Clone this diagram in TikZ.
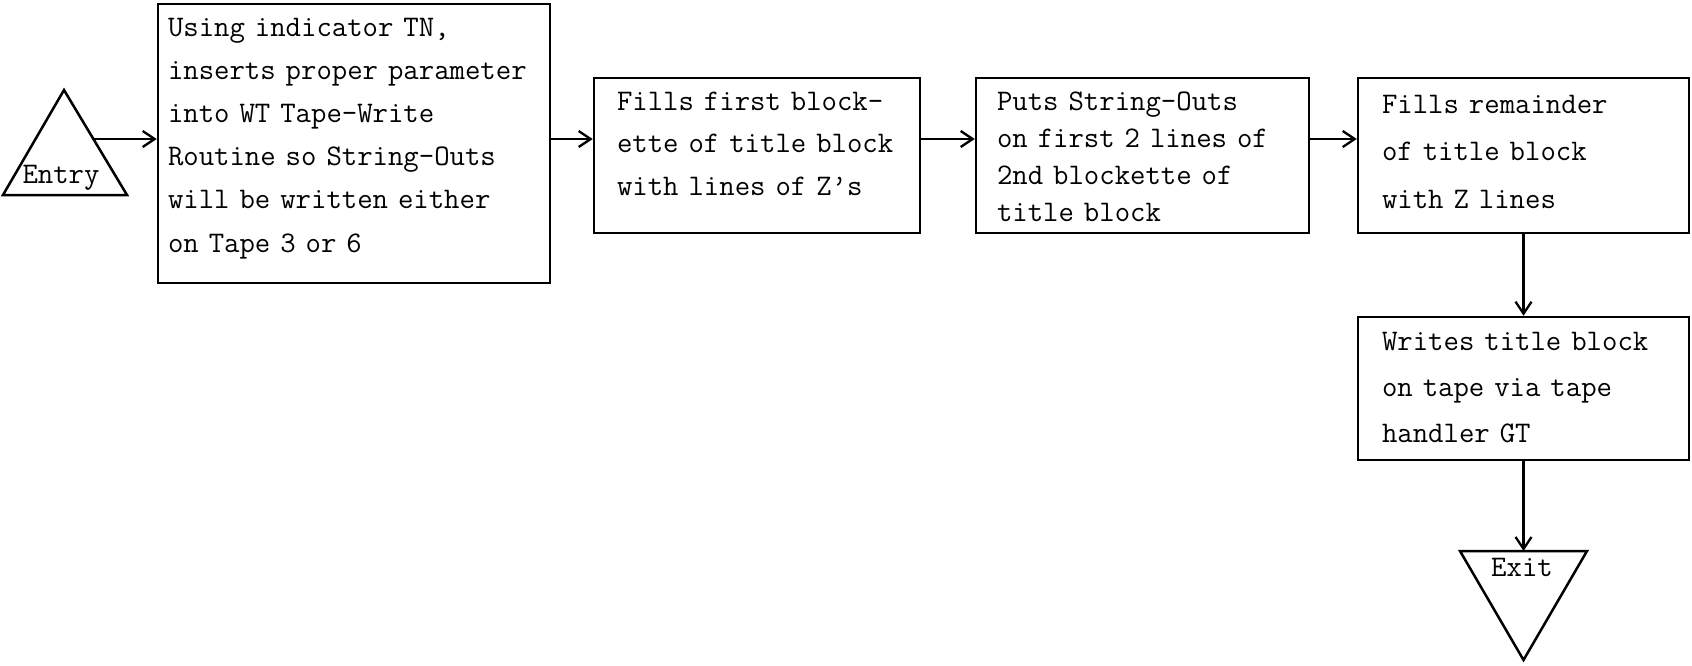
\documentclass[tikz,border=0pt]{standalone}
\usepackage{fontspec}
\usetikzlibrary{arrows.meta}
\hfuzz=200pt
\newcommand\bxfont[1]{\ttfamily\fontsize{29.9}{#1}\selectfont\addfontfeatures{FakeBold=1.2}}
\tikzset{
  box/.style={draw, line width=2.5pt, rectangle, inner ysep=0pt, text height=0pt, align=left},
  arr/.style={line width=2.3pt, -{Straight Barb[length=12pt,width=16pt]}},
  tri/.style={line width=2.5pt},
  lbl/.style={font=\bxfont{30}, inner sep=0pt, anchor=base},
}
\begin{document}
\begin{tikzpicture}[x=1pt,y=-1pt]
\useasboundingbox (0,0) rectangle (1692,665);
% Entry triangle
\draw[tri] (3,195) -- (127,195) -- (64,90) -- cycle;
\node[lbl] (entrytext) at (61,183) {Entry};
\coordinate (entryout) at (93.4,139);
% Boxes
\node[box, font=\bxfont{43.2}, minimum width=392, minimum height=279, inner xsep=10, text width=372, text depth=215] (box1) at (354,143.5)
 {\mbox{Using indicator TN,}\\\mbox{inserts proper parameter}\\\mbox{into WT Tape-Write}\\\mbox{Routine so String-Outs}\\\mbox{will be written either}\\\mbox{on Tape 3 or 6}};
\node[box, font=\bxfont{42.5}, minimum width=326, minimum height=155, inner xsep=23, text width=280, text depth=91] (box2) at (757,155.5)
 {\mbox{Fills first block-}\\\mbox{ette of title block}\\\mbox{with lines of Z’s}};
\node[box, font=\bxfont{37.3}, minimum width=333, minimum height=155, inner xsep=21, text width=291, text depth=91] (box3) at (1142.5,155.5)
 {\mbox{Puts String-Outs}\\\mbox{on first 2 lines of}\\\mbox{2nd blockette of}\\\mbox{title block}};
\node[box, font=\bxfont{47.5}, minimum width=331, minimum height=155, inner xsep=24, text width=283, text depth=85] (box4) at (1523.5,155.5)
 {\mbox{Fills remainder}\\\mbox{of title block}\\\mbox{with Z lines}};
\node[box, font=\bxfont{46}, minimum width=331, minimum height=143, inner xsep=24, text width=283, text depth=77] (box5) at (1523.5,388.5)
 {\mbox{Writes title block}\\\mbox{on tape via tape}\\\mbox{handler GT}};
% Exit triangle
\draw[tri] (1460,551) -- (1587,551) -- (1523.5,660) -- cycle;
\node[lbl] (exittext) at (1522,576) {Exit};
\coordinate (exittop) at (1523.5,551);
% Connectors
\draw[arr] (entryout) -- (box1.west |- entryout);
\draw[arr] (box1.east |- entryout) -- (box2.west |- entryout);
\draw[arr] (box2.east |- entryout) -- (box3.west |- entryout);
\draw[arr] (box3.east |- entryout) -- (box4.west |- entryout);
\draw[arr] (box4.south) -- (box5.north);
\draw[arr] (box5.south) -- (exittop);
\end{tikzpicture}
\end{document}
